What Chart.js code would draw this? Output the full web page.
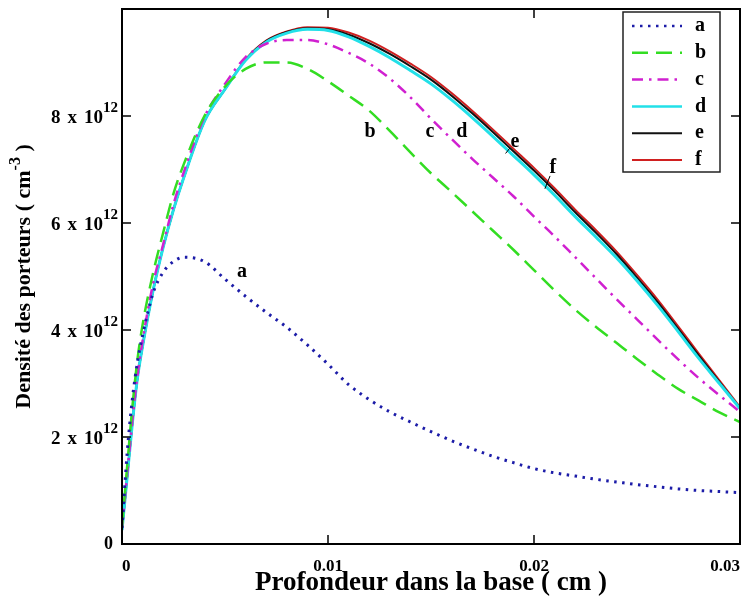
<!DOCTYPE html>
<html>
<head>
<meta charset="utf-8">
<script src="https://cdn.jsdelivr.net/npm/chart.js@4/dist/chart.umd.min.js"></script>
<style>
  html, body { margin: 0; padding: 0; background: #fff; }
  canvas { display: block; }
</style>
</head>
<body>
<canvas id="chart" width="746" height="599"></canvas>
<script>
"use strict";


// Densité des porteurs dans la base, valeurs en 10^12 cm-3


const depth = [0, 0.00025, 0.0005, 0.00075, 0.001, 0.0015, 0.002, 0.0025, 0.003, 0.004,
               0.005, 0.006, 0.007, 0.008, 0.009, 0.010, 0.011, 0.012, 0.013, 0.014,
               0.015, 0.016, 0.017, 0.018, 0.019, 0.020, 0.021, 0.022, 0.023, 0.024,
               0.025, 0.026, 0.027, 0.028, 0.029, 0.030];

const curveA = [0.30, 1.70, 2.70, 3.40, 3.90, 4.68, 5.08, 5.28, 5.36, 5.28,
                4.95, 4.63, 4.33, 4.05, 3.72, 3.36, 2.98, 2.70, 2.47, 2.28,
                2.10, 1.93, 1.78, 1.64, 1.52, 1.41, 1.33, 1.27, 1.21, 1.16,
                1.11, 1.07, 1.03, 1.00, 0.98, 0.96];
const curveB = [0.32, 1.45, 2.55, 3.45, 4.10, 5.05, 5.82, 6.55, 7.10, 8.00,
                8.55, 8.88, 9.00, 9.00, 8.88, 8.65, 8.38, 8.10, 7.72, 7.32,
                6.93, 6.58, 6.22, 5.86, 5.50, 5.12, 4.74, 4.38, 4.06, 3.76,
                3.46, 3.17, 2.90, 2.68, 2.46, 2.28];
const curveC = [0.30, 1.30, 2.30, 3.15, 3.80, 4.85, 5.60, 6.35, 6.95, 7.98,
                8.60, 9.10, 9.35, 9.42, 9.42, 9.34, 9.18, 8.98, 8.70, 8.35,
                7.95, 7.57, 7.20, 6.85, 6.50, 6.12, 5.75, 5.36, 4.97, 4.58,
                4.20, 3.82, 3.45, 3.10, 2.78, 2.47];
const curveD = [0.26, 1.25, 2.25, 3.10, 3.70, 4.72, 5.55, 6.25, 6.85, 7.90,
                8.50, 9.04, 9.38, 9.55, 9.62, 9.60, 9.48, 9.30, 9.09, 8.85,
                8.60, 8.30, 7.97, 7.62, 7.26, 6.90, 6.52, 6.12, 5.74, 5.35,
                4.92, 4.46, 3.97, 3.47, 3.00, 2.53];
const curveE = [0.26, 1.25, 2.25, 3.10, 3.70, 4.72, 5.55, 6.25, 6.85, 7.90,
                8.50, 9.05, 9.40, 9.57, 9.64, 9.62, 9.52, 9.36, 9.16, 8.93,
                8.68, 8.38, 8.05, 7.70, 7.34, 6.98, 6.60, 6.20, 5.82, 5.42,
                4.98, 4.52, 4.02, 3.52, 3.03, 2.54];
const curveF = [0.26, 1.25, 2.25, 3.10, 3.70, 4.72, 5.55, 6.25, 6.85, 7.90,
                8.50, 9.06, 9.41, 9.58, 9.66, 9.65, 9.56, 9.41, 9.21, 8.98,
                8.73, 8.43, 8.10, 7.75, 7.39, 7.03, 6.65, 6.25, 5.87, 5.47,
                5.03, 4.57, 4.07, 3.56, 3.06, 2.56];

const names = ["a", "b", "c", "d", "e", "f"];
const yTickValues = [0, 2, 4, 6, 8];

// letters written next to the curves, in data units
const curveNotes = [
    { text: "a", x: 0.00583, y: 5.08 },
    { text: "b", x: 0.01204, y: 7.70 },
    { text: "c", x: 0.01495, y: 7.70 },
    { text: "d", x: 0.01650, y: 7.70 },
    { text: "e", x: 0.01908, y: 7.51, lead: [0.01883, 7.40, 0.01862, 7.30] },
    { text: "f", x: 0.02092, y: 7.03, lead: [0.02078, 6.88, 0.02053, 6.64] }
];

const SERIF = "'Liberation Serif', 'Times New Roman', serif";

function points(values) {
    return depth.map(function(x, i) { return { x: x, y: values[i] }; });
}

function curve(label, values, color, width, dash) {
    return {
        label: label,
        data: points(values),
        borderColor: color,
        backgroundColor: color,
        borderWidth: width,
        borderDash: dash,
        borderCapStyle: "butt",
        pointRadius: 0,
        fill: false,
        cubicInterpolationMode: "monotone"
    };
}

let decorations = {
    id: "decorations",
    afterDraw: function(chart) {
        let ctx = chart.ctx;
        let area = chart.chartArea;
        let xs = chart.scales.x;
        let ys = chart.scales.y;

        ctx.save();
        ctx.fillStyle = "#000";
        ctx.strokeStyle = "#000";

        // frame + inward ticks
        ctx.lineWidth = 2;
        ctx.strokeRect(area.left, area.top, area.right - area.left, area.bottom - area.top);
        ctx.lineWidth = 1.5;
        ctx.beginPath();
        yTickValues.forEach(function(v) {
            if (v === 0) return;
            let y = ys.getPixelForValue(v);
            ctx.moveTo(area.left, y);  ctx.lineTo(area.left + 9, y);
            ctx.moveTo(area.right, y); ctx.lineTo(area.right - 9, y);
        });
        xs.ticks.forEach(function(t) {
            let x = xs.getPixelForValue(t.value);
            if (x <= area.left + 1 || x >= area.right - 1) return;
            ctx.moveTo(x, area.bottom); ctx.lineTo(x, area.bottom - 9);
            ctx.moveTo(x, area.top);    ctx.lineTo(x, area.top + 9);
        });
        ctx.stroke();

        // y tick labels with exponent
        ctx.textBaseline = "middle";
        yTickValues.forEach(function(v) {
            let y = ys.getPixelForValue(v);
            if (v === 0) {
                ctx.font = "bold 18px " + SERIF;
                ctx.textAlign = "right";
                ctx.fillText("0", 113, y);
                return;
            }
            ctx.font = "bold 15px " + SERIF;
            let supW = ctx.measureText("12").width;
            ctx.textAlign = "right";
            ctx.fillText("12", 118, y - 8);
            ctx.font = "bold 19px " + SERIF;
            let right = 118 - supW;
            let w10 = ctx.measureText("10").width;
            ctx.fillText("10", right, y + 2);
            ctx.fillText("x", right - w10 - 7, y + 2);
            let wx = ctx.measureText("x").width;
            ctx.fillText(String(v), right - w10 - 7 - wx - 7, y + 2);
        });

        // y title, rotated
        ctx.save();
        ctx.translate(24, (area.top + area.bottom) / 2);
        ctx.rotate(-Math.PI / 2);
        let partA = "Densité des porteurs ( cm";
        let partB = "-3";
        let partC = " )";
        ctx.font = "bold 22px " + SERIF;
        let wA = ctx.measureText(partA).width;
        let wC = ctx.measureText(partC).width;
        ctx.font = "bold 16px " + SERIF;
        let wB = ctx.measureText(partB).width;
        let x0 = -(wA + wB + wC) / 2;
        ctx.textAlign = "left";
        ctx.font = "bold 22px " + SERIF;
        ctx.fillText(partA, x0, 0);
        ctx.fillText(partC, x0 + wA + wB, 0);
        ctx.font = "bold 16px " + SERIF;
        ctx.fillText(partB, x0 + wA, -8);
        ctx.restore();

        // x title
        ctx.font = "bold 27px " + SERIF;
        ctx.textAlign = "center";
        ctx.fillText("Profondeur dans la base ( cm )", (area.left + area.right) / 2, 583);

        // letters on the curves
        ctx.font = "bold 20px " + SERIF;
        ctx.lineWidth = 1;
        curveNotes.forEach(function(n) {
            ctx.fillText(n.text, xs.getPixelForValue(n.x), ys.getPixelForValue(n.y));
            if (n.lead) {
                ctx.beginPath();
                ctx.moveTo(xs.getPixelForValue(n.lead[0]), ys.getPixelForValue(n.lead[1]));
                ctx.lineTo(xs.getPixelForValue(n.lead[2]), ys.getPixelForValue(n.lead[3]));
                ctx.stroke();
            }
        });

        // legend box
        let bx = 623, by = 12, bw = 97, bh = 160;
        ctx.fillStyle = "#fff";
        ctx.fillRect(bx, by, bw, bh);
        ctx.lineWidth = 1.5;
        ctx.strokeStyle = "#222";
        ctx.strokeRect(bx, by, bw, bh);
        ctx.textAlign = "left";
        ctx.font = "bold 20px " + SERIF;
        chart.data.datasets.forEach(function(ds, i) {
            let y = by + 14 + i * 26.8;
            ctx.save();
            ctx.strokeStyle = ds.borderColor;
            ctx.lineWidth = Math.min(ds.borderWidth, 2.5);
            ctx.setLineDash(ds.borderDash || []);
            ctx.beginPath();
            ctx.moveTo(bx + 9, y);
            ctx.lineTo(bx + 59, y);
            ctx.stroke();
            ctx.restore();
            ctx.fillStyle = "#000";
            ctx.fillText(ds.label, bx + 72, y);
        });

        ctx.restore();
    }
};

let ctx_density = document.getElementById("chart").getContext("2d");

let densityChart = new Chart(ctx_density, {
    type: "line",
    data: {
        datasets: [
            curve(names[0], curveA, "#1c1ca8", 3, [2.5, 5.5]),
            curve(names[1], curveB, "#33dd22", 2.5, [16, 8]),
            curve(names[2], curveC, "#d020d0", 2.5, [11, 6, 2.5, 6]),
            curve(names[3], curveD, "#22e0e8", 3, []),
            curve(names[4], curveE, "#111111", 2, []),
            curve(names[5], curveF, "#d02020", 2, [])
        ]
    },
    options: {
        responsive: false,
        animation: false,
        layout: { padding: { left: 0, right: 6, top: 9, bottom: 0 } },
        plugins: {
            legend: { display: false },
            tooltip: { enabled: false }
        },
        scales: {
            x: {
                type: "linear",
                min: 0,
                max: 0.03,
                grid: { display: false, drawTicks: false },
                border: { display: false },
                ticks: {
                    stepSize: 0.01,
                    align: "inner",
                    maxRotation: 0,
                    padding: 12,
                    color: "#000",
                    font: { family: SERIF, size: 17, weight: "bold" },
                    callback: function(v) { return v === 0 ? "0" : v.toFixed(2); }
                },
                afterFit: function(s) {
                    s.height = 55;
                    s.paddingLeft = 0;
                    s.paddingRight = 0;
                }
            },
            y: {
                type: "linear",
                min: 0,
                max: 10,
                grid: { display: false, drawTicks: false },
                border: { display: false },
                ticks: { stepSize: 2, display: false },
                afterFit: function(s) { s.width = 122; }
            }
        }
    },
    plugins: [decorations]
});
</script>
</body>
</html>
